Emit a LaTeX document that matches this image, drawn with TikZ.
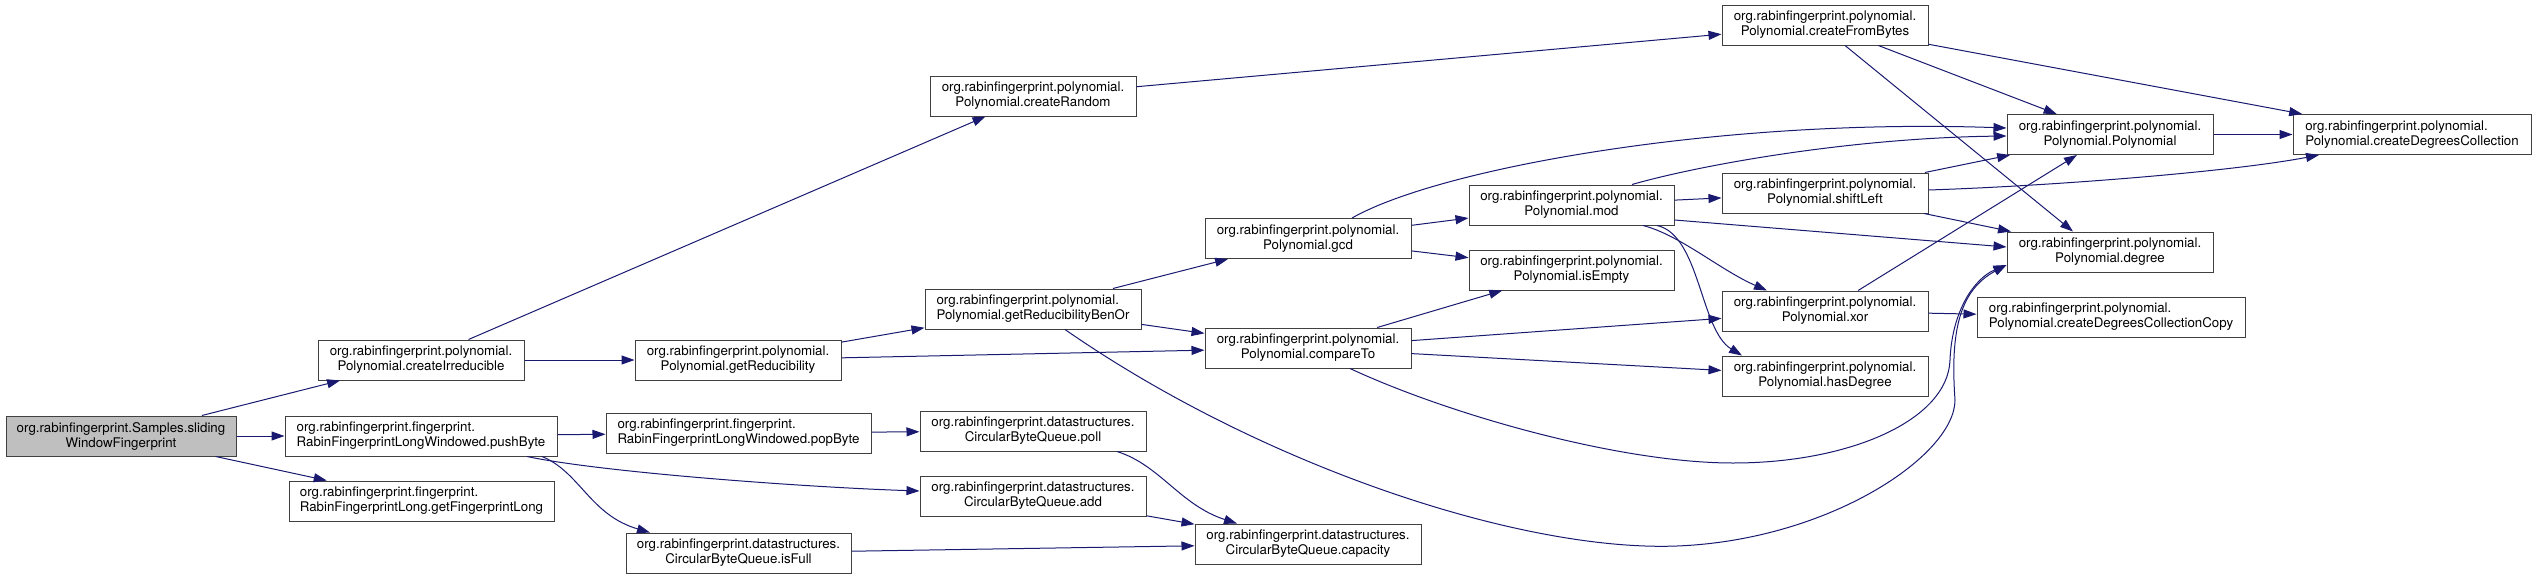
\documentclass[tikz,border=0pt]{standalone}
\usepackage{fontspec}
\setmainfont{TeX Gyre Heros}
\usetikzlibrary{arrows.meta}
\definecolor{midblue}{HTML}{191970}
\definecolor{grey25}{HTML}{404040}
\definecolor{grey75}{HTML}{BFBFBF}

\begin{document}
\begin{tikzpicture}[x=1pt, y=-1pt,
  fn/.style={draw=grey25, fill=white, line width=1pt, minimum width=206pt, minimum height=40pt,
    inner sep=0pt, align=center, font=\fontsize{13.3}{15}\selectfont},
  fnl/.style={fn, align=left},
  call/.style={draw=midblue, line width=1pt, -{Triangle[length=13pt, width=9pt]}}]
\useasboundingbox (0,0) rectangle (2536,579);

% callers
\node[fn, fill=grey75, minimum width=230pt] at (121,436) (sw) {org.rabinfingerprint.Samples.sliding\\WindowFingerprint};
\node[fn] at (421,360) (irr) {org.rabinfingerprint.polynomial.\\Polynomial.createIrreducible};
\node[fnl, minimum width=272pt] at (421,436) (push) {org.rabinfingerprint.fingerprint.\\RabinFingerprintLongWindowed.pushByte};
\node[fnl, minimum width=265pt] at (421.5,501) (getfp) {org.rabinfingerprint.fingerprint.\\RabinFingerprintLong.getFingerprintLong};
\node[fn] at (1033,96) (rnd) {org.rabinfingerprint.polynomial.\\Polynomial.createRandom};
\node[fn] at (738,360) (red) {org.rabinfingerprint.polynomial.\\Polynomial.getReducibility};
\node[fnl, minimum width=265pt] at (738.5,433) (popb) {org.rabinfingerprint.fingerprint.\\RabinFingerprintLongWindowed.popByte};
\node[fn, minimum width=225pt] at (738.5,553) (full) {org.rabinfingerprint.datastructures.\\CircularByteQueue.isFull};
\node[fnl, minimum width=216pt] at (1033,309) (benor) {org.rabinfingerprint.polynomial.\\Polynomial.getReducibilityBenOr};
\node[fn, minimum width=226pt] at (1033,431) (poll) {org.rabinfingerprint.datastructures.\\CircularByteQueue.poll};
\node[fn, minimum width=226pt] at (1033,496) (add) {org.rabinfingerprint.datastructures.\\CircularByteQueue.add};
\node[fn] at (1308,238.5) (gcd) {org.rabinfingerprint.polynomial.\\Polynomial.gcd};
\node[fn] at (1308,348) (cmp) {org.rabinfingerprint.polynomial.\\Polynomial.compareTo};
\node[fn, minimum width=226pt] at (1308,544) (cap) {org.rabinfingerprint.datastructures.\\CircularByteQueue.capacity};
\node[fn, minimum width=205pt] at (1571.5,205) (mod) {org.rabinfingerprint.polynomial.\\Polynomial.mod};
\node[fn, minimum width=205pt] at (1571.5,270) (empty) {org.rabinfingerprint.polynomial.\\Polynomial.isEmpty};
\node[fn] at (1825,25) (bytes) {org.rabinfingerprint.polynomial.\\Polynomial.createFromBytes};
\node[fn] at (1825,193) (shl) {org.rabinfingerprint.polynomial.\\Polynomial.shiftLeft};
\node[fn] at (1825,311) (xor) {org.rabinfingerprint.polynomial.\\Polynomial.xor};
\node[fn] at (1825,376) (hasdeg) {org.rabinfingerprint.polynomial.\\Polynomial.hasDegree};
\node[fn] at (2110,134.5) (poly) {org.rabinfingerprint.polynomial.\\Polynomial.Polynomial};
\node[fn] at (2110,252) (deg) {org.rabinfingerprint.polynomial.\\Polynomial.degree};
\node[fnl, minimum width=268pt] at (2111,317) (dcopy) {org.rabinfingerprint.polynomial.\\Polynomial.createDegreesCollectionCopy};
\node[fnl, minimum width=238pt] at (2412,134.5) (dcoll) {org.rabinfingerprint.polynomial.\\Polynomial.createDegreesCollection};

% calls
\draw[call] (sw) -- (irr);
\draw[call] (sw) -- (push);
\draw[call] (sw) -- (getfp);
\draw[call] (irr) -- (rnd);
\draw[call] (irr) -- (red);
\draw[call] (rnd) -- (bytes);
\draw[call] (red) -- (benor);
\draw[call] (red) -- (cmp);
\draw[call] (benor) -- (gcd);
\draw[call] (benor) -- (cmp);
\draw[call] ([xshift=32pt]benor.south) .. controls (1260,465) and (1520,552) .. (1677,546)
  .. controls (1830,540) and (1955,455) .. (1955,400)
  .. controls (1950,330) and (1960,290) .. ([yshift=-13pt]deg.west);
\draw[call] (gcd) -- (mod);
\draw[call] (gcd) -- (empty);
\draw[call] ([xshift=44pt]gcd.north) .. controls (1440,168) and (1720,118) .. ([yshift=6.5pt]poly.west);
\draw[call] (cmp) -- (empty);
\draw[call] (cmp) -- (xor);
\draw[call] (cmp) -- (hasdeg);
\draw[call] ([xshift=42pt]cmp.south) .. controls (1450,415) and (1620,463) .. (1733,463)
  .. controls (1850,463) and (1948,420) .. (1950,360)
  .. controls (1952,310) and (1975,278) .. ([yshift=-13pt]deg.west);
\draw[call] (mod) -- (shl);
\draw[call] ([yshift=-15pt]mod.east) -- ([yshift=5pt]deg.west);
\draw[call] ([xshift=60.5pt]mod.north) .. controls (1700,165) and (1850,138) .. ([yshift=-1.5pt]poly.west);
\draw[call] ([xshift=71.5pt]mod.south) .. controls (1680,235) and (1720,270) .. ([xshift=-58pt]xor.north);
\draw[call] ([xshift=85.5pt]mod.south) .. controls (1700,235) and (1700,330) .. ([xshift=-83pt]hasdeg.north);
\draw[call] (bytes) -- (poly);
\draw[call] (bytes) -- (dcoll);
\draw[call] ([xshift=20pt]bytes.south) -- ([xshift=-37pt]deg.north);
\draw[call] (shl) -- (poly);
\draw[call] ([yshift=3pt]shl.east) .. controls (2050,186) and (2230,172) .. ([xshift=-93pt]dcoll.south);
\draw[call] (shl) -- (deg);
\draw[call] (xor) -- (poly);
\draw[call] (xor) -- (dcopy);
\draw[call] (poly) -- (dcoll);
\draw[call] (push) -- (popb);
\draw[call] ([xshift=106pt]push.south) .. controls (600,472) and (800,487) .. ([yshift=5pt]add.west);
\draw[call] ([xshift=121pt]push.south) .. controls (580,472) and (590,515) .. ([xshift=-88.5pt]full.north);
\draw[call] (popb) -- (poll);
\draw[call] ([xshift=84pt]poll.south) .. controls (1160,465) and (1180,505) .. ([xshift=-71pt]cap.north);
\draw[call] (add) -- (cap);
\draw[call] (full) -- (cap);
\end{tikzpicture}
\end{document}
